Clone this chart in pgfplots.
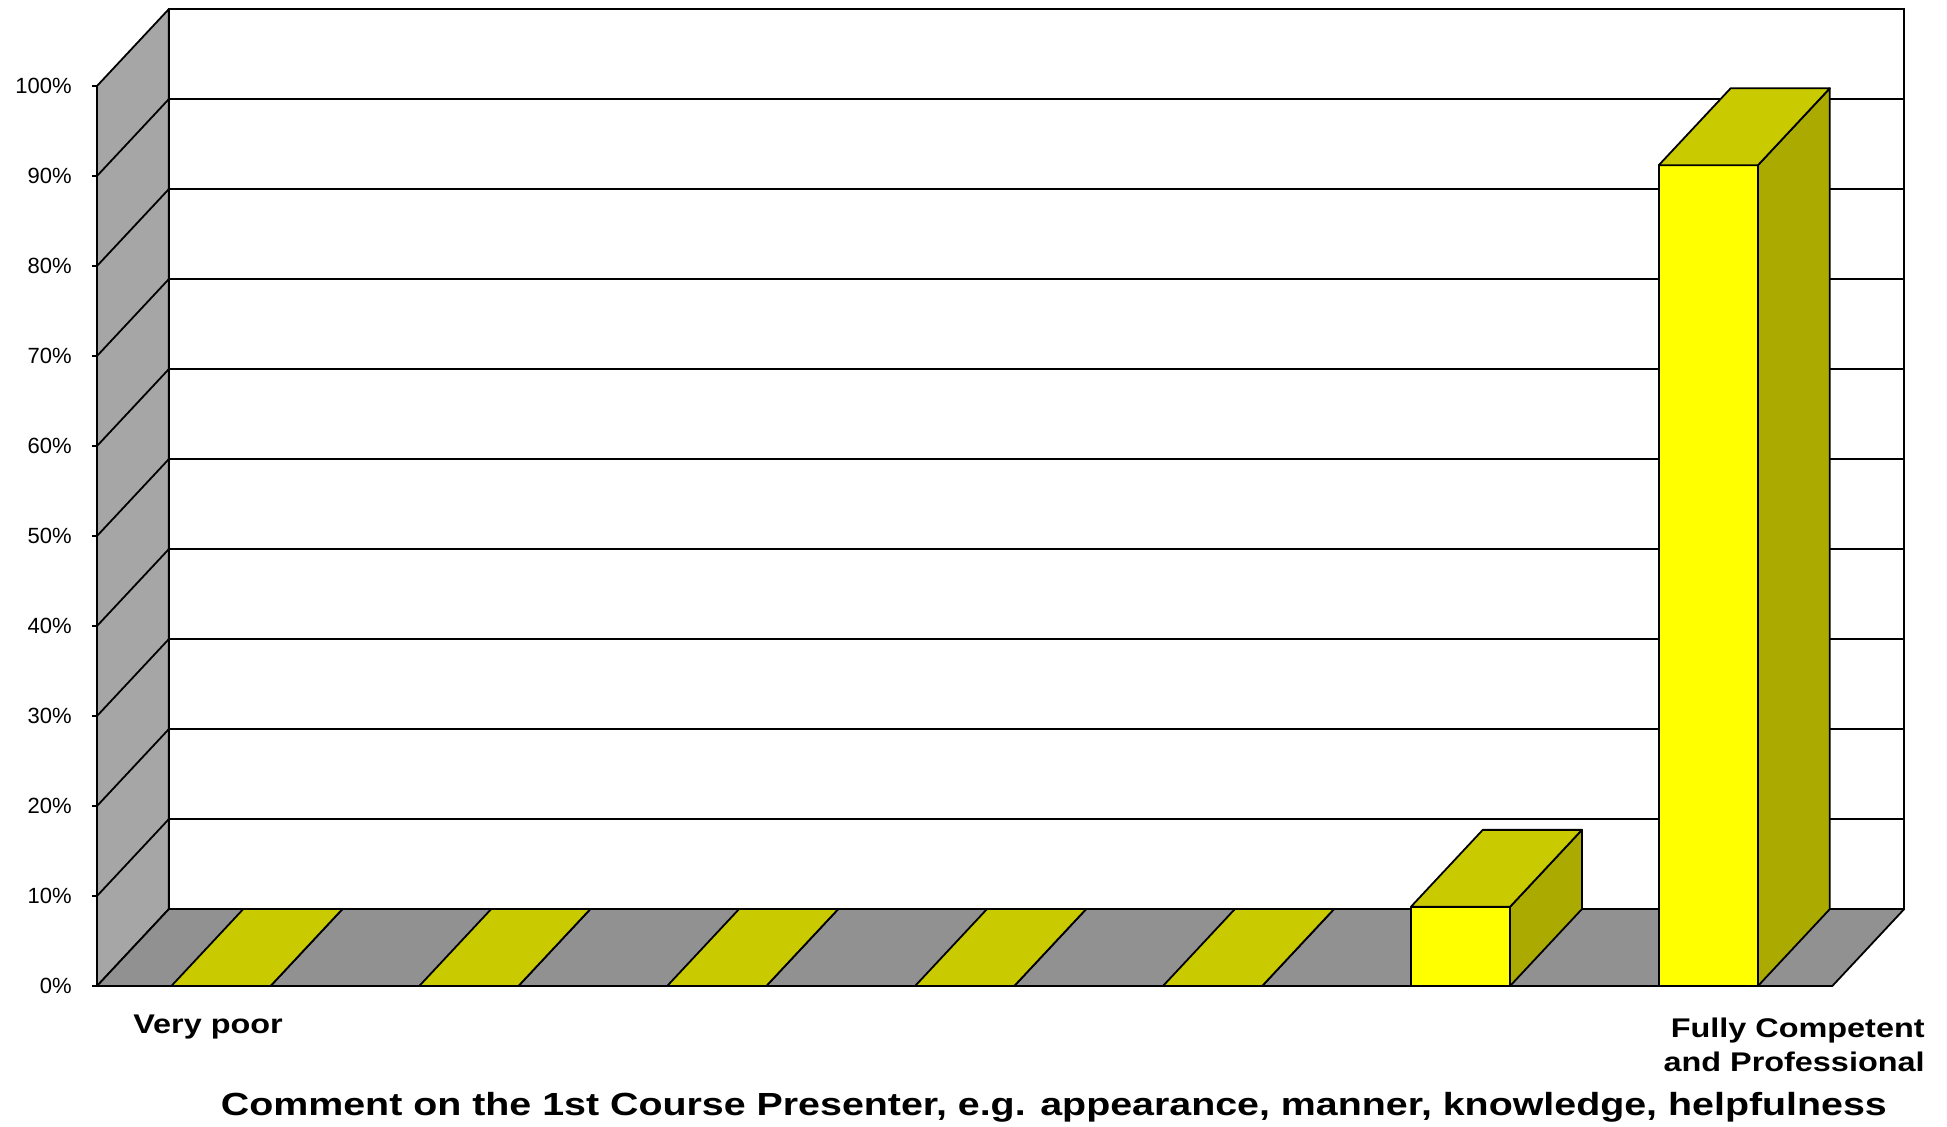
\documentclass[border=0pt]{standalone}
\usepackage{fontspec}
\setmainfont{Liberation Sans}
\newfontfamily\labelfont[FakeStretch=1.2]{Liberation Sans Bold}
\newfontfamily\titlefont[FakeStretch=1.23]{Liberation Sans Bold}
\usepackage{pgfplots}
\pgfplotsset{compat=1.18}
\definecolor{wallgray}{RGB}{166,166,166}
\definecolor{floorgray}{RGB}{145,145,145}
\definecolor{bartop}{RGB}{202,202,0}
\definecolor{barside}{RGB}{170,170,0}
\definecolor{barfront}{RGB}{255,255,0}
\newcommand{\Dx}{0.29}
\newcommand{\Dy}{8.55}
\newcommand{\barthreed}[2]{%
  \pgfmathsetmacro\xl{#1+0.3}%
  \pgfmathsetmacro\xr{#1+0.7}%
  \pgfmathsetmacro\xlb{#1+0.3+\Dx}%
  \pgfmathsetmacro\xrb{#1+0.7+\Dx}%
  \pgfmathsetmacro\vt{#2}%
  \pgfmathsetmacro\vb{#2+\Dy}%
  \pgfmathsetmacro\fb{\Dy}%
  \edef\temp{%
    \noexpand\addplot[draw=black, line width=0.9pt, fill=barfront, line join=round] coordinates {(\xl,0) (\xr,0) (\xr,\vt) (\xl,\vt) (\xl,0)};
    \noexpand\addplot[draw=black, line width=0.9pt, fill=barside, line join=round] coordinates {(\xr,0) (\xrb,\fb) (\xrb,\vb) (\xr,\vt) (\xr,0)};
    \noexpand\addplot[draw=black, line width=0.9pt, fill=bartop, line join=round] coordinates {(\xl,\vt) (\xr,\vt) (\xrb,\vb) (\xlb,\vb) (\xl,\vt)};
  }\temp
}
\begin{document}
\begin{tikzpicture}
\path[use as bounding box] (-48.5pt,-70pt) rectangle (925pt,493pt);
\begin{axis}[
  at={(0,0)}, anchor=south west,
  x=123.95pt, y=4.5pt,
  xmin=0, xmax=7.29, ymin=0, ymax=108.55,
  scale only axis, clip=false,
  axis x line*=bottom, axis y line*=left,
  axis line style={draw=none},
  xtick=\empty,
  ytick={0,10,...,100},
  yticklabels={0\%,10\%,20\%,30\%,40\%,50\%,60\%,70\%,80\%,90\%,100\%},
  tick align=outside, major tick length=2.5pt,
  tick style={black, line width=0.8pt},
  yticklabel style={font=\fontsize{11}{13}\selectfont, inner sep=0pt, xshift=-10pt},
  every axis plot/.append style={mark=none},
]
% back wall
\addplot[draw=black, line width=0.9pt, fill=white] coordinates {(0.29,8.55) (7.29,8.55) (7.29,108.55) (0.29,108.55) (0.29,8.55)};
% back gridlines
\addplot[black, line width=1.1pt] coordinates {(0.29,18.55) (7.29,18.55)};
\addplot[black, line width=1.1pt] coordinates {(0.29,28.55) (7.29,28.55)};
\addplot[black, line width=1.1pt] coordinates {(0.29,38.55) (7.29,38.55)};
\addplot[black, line width=1.1pt] coordinates {(0.29,48.55) (7.29,48.55)};
\addplot[black, line width=1.1pt] coordinates {(0.29,58.55) (7.29,58.55)};
\addplot[black, line width=1.1pt] coordinates {(0.29,68.55) (7.29,68.55)};
\addplot[black, line width=1.1pt] coordinates {(0.29,78.55) (7.29,78.55)};
\addplot[black, line width=1.1pt] coordinates {(0.29,88.55) (7.29,88.55)};
\addplot[black, line width=1.1pt] coordinates {(0.29,98.55) (7.29,98.55)};
% left wall
\addplot[draw=black, line width=0.9pt, fill=wallgray, line join=round] coordinates {(0,0) (0.29,8.55) (0.29,108.55) (0,100) (0,0)};
\addplot[black, line width=0.9pt] coordinates {(0,10) (0.29,18.55)};
\addplot[black, line width=0.9pt] coordinates {(0,20) (0.29,28.55)};
\addplot[black, line width=0.9pt] coordinates {(0,30) (0.29,38.55)};
\addplot[black, line width=0.9pt] coordinates {(0,40) (0.29,48.55)};
\addplot[black, line width=0.9pt] coordinates {(0,50) (0.29,58.55)};
\addplot[black, line width=0.9pt] coordinates {(0,60) (0.29,68.55)};
\addplot[black, line width=0.9pt] coordinates {(0,70) (0.29,78.55)};
\addplot[black, line width=0.9pt] coordinates {(0,80) (0.29,88.55)};
\addplot[black, line width=0.9pt] coordinates {(0,90) (0.29,98.55)};
% floor
\addplot[draw=black, line width=0.9pt, fill=floorgray, line join=round] coordinates {(0,0) (7,0) (7.29,8.55) (0.29,8.55) (0,0)};
% bars
\barthreed{0}{0}
\barthreed{1}{0}
\barthreed{2}{0}
\barthreed{3}{0}
\barthreed{4}{0}
\barthreed{5}{8.8}
\barthreed{6}{91.2}
% labels
\node[anchor=base, inner sep=0pt, font=\labelfont\fontsize{13.5}{16}\selectfont] at (axis cs:0.448,-5.3) {Very poor};
\node[anchor=base east, align=right, font=\labelfont\fontsize{13.5}{16.8}\selectfont, inner sep=0pt] at (axis cs:7.374,-9.45) {Fully Competent\\and Professional};
\node[anchor=base, inner sep=0pt, font=\titlefont\fontsize{16}{19}\selectfont] at (axis cs:3.86,-14.4) {Comment on the 1st Course Presenter, e.g. appearance, manner, knowledge, helpfulness};
\end{axis}
\end{tikzpicture}
\end{document}
